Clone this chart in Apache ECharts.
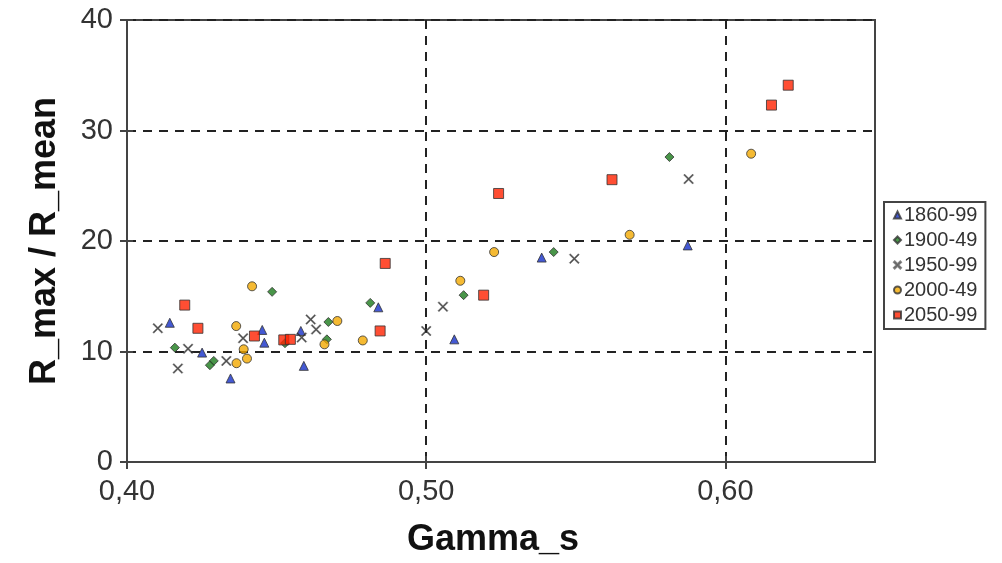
<!DOCTYPE html>
<html><head><meta charset="utf-8">
<script src="https://cdn.jsdelivr.net/npm/echarts@6/dist/echarts.min.js"></script>
<style>html,body{margin:0;padding:0;background:#fff}#c{width:1002px;height:563px}</style>
</head><body><div id="c"></div>
<script>
const seriesNames = ["1860-99","1900-49","1950-99","2000-49","2050-99"];
const s1860 = [[0.4143,12.6],[0.4452,11.95],[0.4459,10.8],[0.4251,9.9],[0.4346,7.56],[0.4581,11.86],[0.4591,8.7],[0.484,14.0],[0.5094,11.1],[0.5386,18.5],[0.5874,19.6]];
const s1900 = [[0.4485,15.4],[0.416,10.35],[0.429,9.15],[0.4277,8.76],[0.4528,10.75],[0.4673,12.67],[0.4668,11.1],[0.4813,14.4],[0.5125,15.1],[0.5426,19.0],[0.5813,27.6]];
const s1950 = [[0.4103,12.1],[0.4388,11.2],[0.4204,10.25],[0.4332,9.15],[0.417,8.46],[0.4584,11.26],[0.4614,12.9],[0.4632,12.0],[0.5,11.86],[0.5056,14.06],[0.5495,18.4],[0.5877,25.6]];
const s2000 = [[0.4418,15.9],[0.4365,12.3],[0.439,10.2],[0.4401,9.36],[0.4366,8.94],[0.4703,12.76],[0.466,10.65],[0.4788,11.0],[0.5114,16.4],[0.5227,19.0],[0.568,20.56],[0.6086,27.9]];
const s2050 = [[0.4193,14.2],[0.4237,12.1],[0.4426,11.4],[0.4524,11.05],[0.4546,11.1],[0.4846,11.86],[0.4863,17.97],[0.5192,15.1],[0.5242,24.3],[0.5621,25.55],[0.6154,32.3],[0.621,34.1]];
const xTicks = [0.4, 0.5, 0.6];
const yTicks = [0, 10, 20, 30, 40];
const xTitle = "Gamma_s";
const yTitle = "R_max / R_mean";

const xPath = 'path://M0,1 L1,0 L5,4 L9,0 L10,1 L6,5 L10,9 L9,10 L5,6 L1,10 L0,9 L4,5 Z';
const styles = [
  {symbol:'triangle', size:9, color:'#1530c8'},
  {symbol:'diamond', size:9, color:'#1b7a1b'},
  {symbol:xPath, size:10, color:'#222222'},
  {symbol:'circle', size:9, color:'#f2a900'},
  {symbol:'rect', size:10, color:'#ff2200'}
];
const datas = [s1860, s1900, s1950, s2000, s2050];
const tickStyle = {color:'#444',width:2};
const labelFont = {fontFamily:'Liberation Sans',fontSize:29,color:'#333'};
const titleFont = {fontFamily:'Liberation Sans',fontSize:36,fontWeight:'bold',color:'#111'};

const chart = echarts.init(document.getElementById('c'));
chart.setOption({
  animation:false,
  grid:{left:127,right:127,top:20,bottom:100,show:true,borderColor:'#444',borderWidth:2,backgroundColor:'#fff'},
  xAxis:[{type:'value',min:0.4,max:0.65,interval:0.1,
    name:xTitle,nameLocation:'middle',nameGap:60,
    nameTextStyle:Object.assign({padding:[0,16,0,0]},titleFont),
    axisLine:{show:true,lineStyle:tickStyle},
    axisTick:{show:true,length:7,lineStyle:tickStyle,customValues:xTicks},
    axisLabel:Object.assign({margin:15,customValues:xTicks,
      formatter:v=>v.toFixed(2).replace('.',',')},labelFont),
    splitLine:{show:true,lineStyle:{color:'#222',width:2,type:[9,7]}}
  },{type:'value',min:0.4,max:0.65,interval:0.1,position:'bottom',
    axisLine:{show:false},axisLabel:{show:false},splitLine:{show:false},
    axisTick:{show:true,inside:true,length:6,lineStyle:tickStyle,customValues:xTicks}
  }],
  yAxis:[{type:'value',min:0,max:40,interval:10,
    name:yTitle,nameLocation:'middle',nameGap:64,nameTextStyle:titleFont,
    axisLine:{show:true,lineStyle:tickStyle},
    axisTick:{show:true,length:7,lineStyle:tickStyle,customValues:yTicks},
    axisLabel:Object.assign({margin:14,customValues:yTicks},labelFont),
    splitLine:{show:true,lineStyle:{color:'#222',width:2,type:[9,7]}}
  },{type:'value',min:0,max:40,interval:10,position:'left',
    axisLine:{show:false},axisLabel:{show:false},splitLine:{show:false},
    axisTick:{show:true,inside:true,length:6,lineStyle:tickStyle,customValues:yTicks}
  }],
  legend:{orient:'vertical',left:884,top:202,padding:[3,8,4,9],itemGap:5,
    itemWidth:7,itemHeight:7,borderColor:'#444',borderWidth:2,backgroundColor:'#fff',
    textStyle:{fontFamily:'Liberation Sans',fontSize:20,lineHeight:20,color:'#333',padding:[0,0,0,-2]},
    data:seriesNames},
  series: seriesNames.map((n,i)=>({
    name:n,type:'scatter',xAxisIndex:0,yAxisIndex:0,data:datas[i],symbol:styles[i].symbol,symbolSize:styles[i].size,
    itemStyle:{color:styles[i].color,borderColor:i===2?'#666':'#333',borderWidth:i===2?0.5:1}
  }))
});
</script></body></html>
